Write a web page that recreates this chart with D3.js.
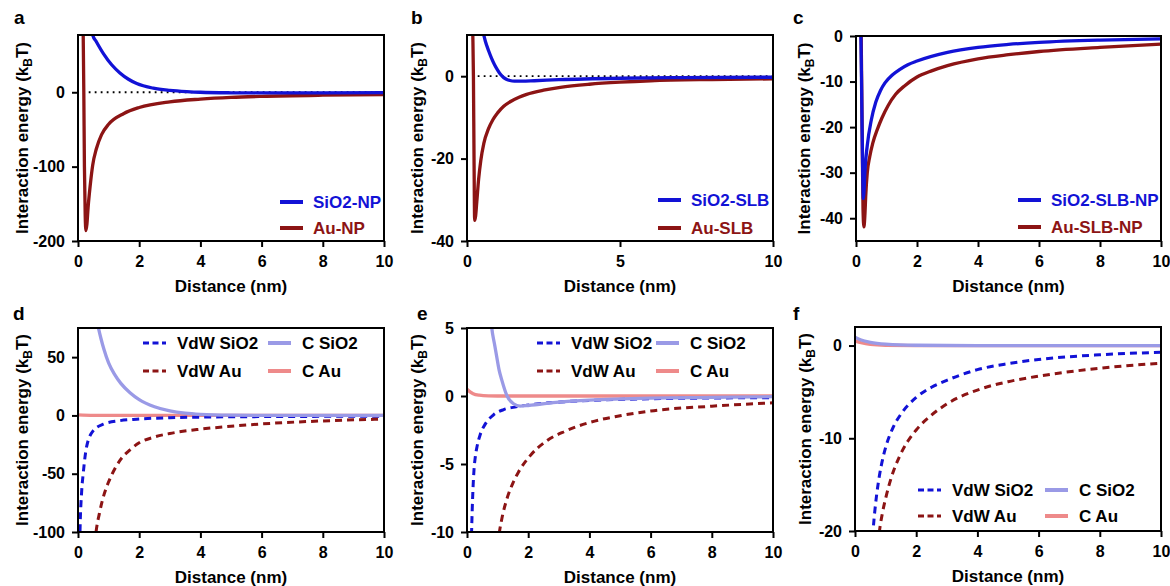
<!DOCTYPE html>
<html>
<head>
<meta charset="utf-8">
<title>Interaction energy panels</title>
<script src="https://d3js.org/d3.v7.min.js"></script>
<style>
body { margin: 0; background: #fff; }
svg text { font-family: Arial, "Liberation Sans", sans-serif; font-weight: bold; }
</style>
</head>
<body>
<svg id="chart" width="1170" height="586"></svg>
<script>
// ---- data: [distance nm, energy kBT] ----
// a
const sio2NP = [[0.42,95],[0.48,77],[0.6,68],[0.83,52],[1.1,37],[1.37,26],[1.65,17.5],[1.92,11.7],[2.46,5.5],[3,2.6],[3.55,0.9],[4,0],[5,-0.7],[6,-0.9],[8,-0.7],[10,-0.5]];
const auNP = [[0.15,150],[0.17,77],[0.19,0],[0.21,-100],[0.235,-165],[0.26,-186],[0.29,-178],[0.33,-155],[0.4,-125],[0.48,-98],[0.6,-76],[0.77,-57],[1.0,-43],[1.5,-28.5],[2,-20.5],[3,-12.8],[4,-9.2],[5,-6.9],[6,-5.5],[8,-3.9],[10,-3]];
// b
const sio2SLB = [[0.45,13],[0.5,11.5],[0.6,8.5],[0.7,6.3],[0.8,4.4],[0.9,2.8],[1.0,1.5],[1.1,0.4],[1.2,-0.35],[1.3,-0.8],[1.4,-1.05],[1.55,-1.2],[1.8,-1.2],[2.2,-1.1],[3,-0.85],[5,-0.5],[7,-0.35],[10,-0.25]];
const auSLB = [[0.16,20],[0.19,10],[0.21,0],[0.23,-20],[0.25,-35],[0.28,-34],[0.32,-30.5],[0.38,-25],[0.45,-20.5],[0.55,-16.3],[0.7,-12.8],[0.85,-10.5],[1.0,-8.9],[1.2,-7.3],[1.41,-6.2],[1.7,-5.1],[1.95,-4.4],[2.5,-3.4],[3.05,-2.7],[4,-1.95],[5,-1.45],[6,-1.1],[8,-0.8],[10,-0.65]];
// c
const sio2SLBNP = [[0.13,3],[0.16,0],[0.19,-15],[0.22,-30],[0.24,-35.7],[0.26,-34.5],[0.29,-30],[0.37,-24],[0.5,-18.5],[0.65,-14.5],[0.8,-12],[0.95,-10.3],[1.2,-8.5],[1.44,-7.3],[1.7,-6.3],[2,-5.5],[3,-3.6],[4,-2.5],[5,-1.85],[6,-1.4],[8,-0.9],[10,-0.65]];
const auSLBNP = [[0.14,3],[0.17,0],[0.2,-20],[0.23,-38],[0.26,-41.9],[0.29,-39.5],[0.32,-35],[0.37,-30],[0.45,-26.5],[0.55,-23.5],[0.7,-20.5],[0.85,-18],[1.05,-15.3],[1.3,-12.8],[1.6,-10.9],[2,-9],[2.5,-7.6],[3,-6.5],[4,-5],[5,-4.1],[6,-3.4],[8,-2.5],[10,-1.8]];
// d
const vdwSio2D = [[0.05,-120],[0.065,-100],[0.12,-65],[0.17,-50],[0.28,-27],[0.5,-13],[0.83,-7.5],[1.37,-4.5],[1.92,-3.2],[3,-2],[4.5,-1.3],[6,-1],[8,-0.8],[10,-0.6]];
const vdwAuD = [[0.55,-110],[0.59,-100],[0.7,-84],[0.85,-68],[1.0,-57],[1.2,-46],[1.4,-37.5],[1.7,-29.5],[2,-23.5],[2.5,-18.5],[3,-15.5],[4,-11.8],[5,-9.3],[6,-7.3],[8,-4.7],[10,-3.1]];
const cSio2D = [[0.6,84],[0.66,76],[0.75,66],[0.85,56.5],[1.0,45],[1.2,35],[1.4,27.5],[1.7,19.5],[2,13.6],[2.5,7.5],[3,3.9],[3.5,1.9],[4,0.9],[5,0.2],[6,0.05],[10,0]];
const cAuD = [[0,0.5],[0.5,0.1],[1,0],[10,0]];
// e
const vdwSio2E = [[0.13,-12],[0.15,-10],[0.17,-8.4],[0.2,-6.6],[0.23,-5.4],[0.27,-4.5],[0.33,-3.7],[0.43,-2.85],[0.6,-2.05],[0.86,-1.4],[1.2,-1.0],[1.6,-0.8],[1.95,-0.68],[3.05,-0.44],[4.58,-0.28],[6,-0.2],[8,-0.15],[10,-0.12]];
const vdwAuE = [[1.0,-11],[1.06,-10],[1.15,-8.9],[1.3,-7.6],[1.5,-6.4],[1.68,-5.6],[2.06,-4.4],[2.6,-3.3],[3.2,-2.6],[4,-1.95],[5,-1.45],[6,-1.1],[8,-0.75],[10,-0.5]];
const cSio2E = [[0.75,6.5],[0.81,5],[0.9,3.8],[0.97,2.9],[1.05,1.9],[1.14,1.15],[1.3,0.05],[1.52,-0.57],[1.74,-0.74],[2,-0.7],[3,-0.45],[4,-0.3],[6,-0.15],[8,-0.1],[10,-0.05]];
const cAuE = [[0,0.5],[0.1,0.3],[0.2,0.17],[0.4,0.06],[0.7,0.01],[1,0],[10,0]];
// f
const vdwSio2F = [[0.55,-22],[0.6,-19.6],[0.7,-16.3],[0.8,-14],[0.9,-12.3],[1.0,-11],[1.25,-8.8],[1.5,-7.4],[2,-5.6],[2.5,-4.5],[3,-3.75],[4,-2.6],[5,-1.95],[6,-1.5],[8,-1.0],[10,-0.72]];
const vdwAuF = [[0.75,-21.5],[0.8,-20],[0.9,-18],[1.0,-16.5],[1.2,-14.1],[1.45,-12],[1.73,-10.3],[2,-9.1],[2.5,-7.5],[3,-6.3],[4,-4.8],[5,-3.9],[6,-3.3],[8,-2.45],[10,-1.9]];
const cSio2F = [[0,0.9],[0.2,0.6],[0.5,0.35],[1,0.15],[2,0.03],[4,0],[10,0]];
const cAuF = [[0,0.5],[0.2,0.3],[0.5,0.12],[1,0.03],[2,0],[10,0]];

// ticks
const xTicks2 = [0,2,4,6,8,10];
const xTicks5 = [0,5,10];

const blue = "#1212d6", red = "#8c1414", lilac = "#9a9ae6", salmon = "#ee8a8a";

const svg = d3.select("#chart");

const panels = [
  {letter:"a", lx:14, ly:24, left:78, top:35, w:306, h:206, yDomain:[-200,77], yTicks:[-200,-100,0], xTicks:xTicks2, ylab:56, zero:true,
   series:[{d:auNP,c:red},{d:sio2NP,c:blue}],
   legend:[{name:"SiO2-NP",c:blue,x:202,y:167,tc:blue},{name:"Au-NP",c:red,x:202,y:193,tc:red}]},
  {letter:"b", lx:411, ly:24, left:467, top:35, w:306, h:206, yDomain:[-40,10], yTicks:[-40,-20,0], xTicks:xTicks5, ylab:50, zero:true,
   series:[{d:auSLB,c:red},{d:sio2SLB,c:blue}],
   legend:[{name:"SiO2-SLB",c:blue,x:191,y:165,tc:blue},{name:"Au-SLB",c:red,x:191,y:193,tc:red}]},
  {letter:"c", lx:793, ly:24, left:856, top:36, w:305, h:205, yDomain:[-45,0], yTicks:[-40,-30,-20,-10,0], xTicks:xTicks2, ylab:52,
   series:[{d:auSLBNP,c:red},{d:sio2SLBNP,c:blue}],
   legend:[{name:"SiO2-SLB-NP",c:blue,x:162,y:164,tc:blue},{name:"Au-SLB-NP",c:red,x:162,y:191,tc:red}]},
  {letter:"d", lx:13, ly:320, left:78, top:328, w:306, h:204, yDomain:[-100,75], yTicks:[-100,-50,0,50], xTicks:xTicks2, ylab:56,
   series:[{d:cAuD,c:salmon},{d:vdwSio2D,c:blue,dash:true},{d:vdwAuD,c:red,dash:true},{d:cSio2D,c:lilac}],
   legend:[{name:"VdW SiO2",c:blue,dash:true,x:65,y:15},{name:"C SiO2",c:lilac,x:190,y:15},
           {name:"VdW Au",c:red,dash:true,x:65,y:43},{name:"C Au",c:salmon,x:190,y:43}]},
  {letter:"e", lx:417, ly:320, left:467, top:328, w:306, h:204, yDomain:[-10,5], yTicks:[-10,-5,0,5], xTicks:xTicks2, ylab:50,
   series:[{d:cAuE,c:salmon},{d:vdwSio2E,c:blue,dash:true},{d:vdwAuE,c:red,dash:true},{d:cSio2E,c:lilac}],
   legend:[{name:"VdW SiO2",c:blue,dash:true,x:70,y:15},{name:"C SiO2",c:lilac,x:189,y:15},
           {name:"VdW Au",c:red,dash:true,x:70,y:43},{name:"C Au",c:salmon,x:189,y:43}]},
  {letter:"f", lx:793, ly:320, left:855, top:327, w:306, h:204, yDomain:[-20,2], yTicks:[-20,-10,0], xTicks:xTicks2, ylab:50,
   series:[{d:vdwSio2F,c:blue,dash:true},{d:vdwAuF,c:red,dash:true},{d:cAuF,c:salmon},{d:cSio2F,c:lilac}],
   legend:[{name:"VdW SiO2",c:blue,dash:true,x:63,y:163},{name:"C SiO2",c:lilac,x:190,y:163},
           {name:"VdW Au",c:red,dash:true,x:63,y:189},{name:"C Au",c:salmon,x:190,y:189}]}
];

panels.forEach(drawPanel);

function drawPanel(p) {
  svg.append("text").attr("x", p.lx).attr("y", p.ly).attr("font-size", 19).text(p.letter);

  const g = svg.append("g").attr("transform", `translate(${p.left},${p.top})`);
  const x = d3.scaleLinear([0, 10], [0, p.w]);
  const y = d3.scaleLinear(p.yDomain, [p.h, 0]);

  g.append("clipPath").attr("id", "clip-" + p.letter)
    .append("rect").attr("width", p.w).attr("height", p.h);
  const plot = g.append("g").attr("clip-path", `url(#clip-${p.letter})`);

  if (p.zero) {
    plot.append("line")
      .attr("x1", x(0.35)).attr("x2", x(10)).attr("y1", y(0)).attr("y2", y(0))
      .attr("stroke", "#000").attr("stroke-width", 1.8).attr("stroke-dasharray", "1.8,4.2");
  }

  const line = d3.line().x(d => x(d[0])).y(d => y(d[1])).curve(d3.curveMonotoneX);
  p.series.forEach(s => {
    plot.append("path").attr("d", line(s.d))
      .attr("fill", "none").attr("stroke", s.c)
      .attr("stroke-width", s.dash ? 3 : 3.3)
      .attr("stroke-dasharray", s.dash ? "7,5" : null);
  });

  const xa = g.append("g").attr("transform", `translate(0,${p.h})`)
    .call(d3.axisBottom(x).tickValues(p.xTicks).tickSize(6).tickPadding(9).tickFormat(d3.format("d")));
  const ya = g.append("g")
    .call(d3.axisLeft(y).tickValues(p.yTicks).tickSize(6).tickPadding(7).tickFormat(d => String(d)));
  [xa, ya].forEach(a => {
    a.select(".domain").remove();
    a.selectAll("line").attr("stroke-width", 2);
    a.selectAll("text").attr("font-size", 16).attr("font-family", "Arial, 'Liberation Sans', sans-serif")
      .attr("font-weight", "bold").attr("fill", "#000");
  });

  g.append("rect").attr("width", p.w).attr("height", p.h)
    .attr("fill", "none").attr("stroke", "#000").attr("stroke-width", 2);

  g.append("text").attr("x", p.w / 2).attr("y", p.h + 51).attr("text-anchor", "middle")
    .attr("font-size", 17).text("Distance (nm)");

  const yl = g.append("text")
    .attr("transform", `translate(${-p.ylab},${p.h / 2}) rotate(-90)`)
    .attr("text-anchor", "middle").attr("dy", "0.35em").attr("font-size", 17);
  yl.append("tspan").text("Interaction energy (k");
  yl.append("tspan").attr("font-size", 12).attr("dy", 4).text("B");
  yl.append("tspan").attr("dy", -4).text("T)");

  p.legend.forEach(l => {
    g.append("line").attr("x1", l.x).attr("x2", l.x + 23).attr("y1", l.y).attr("y2", l.y)
      .attr("stroke", l.c).attr("stroke-width", l.dash ? 3 : 4)
      .attr("stroke-dasharray", l.dash ? "6,3.5" : null);
    g.append("text").attr("x", l.x + (l.tc ? 33 : 34)).attr("y", l.y).attr("dy", "0.36em")
      .attr("font-size", 17).attr("fill", l.tc || "#000").text(l.name);
  });
}
</script>
</body>
</html>
